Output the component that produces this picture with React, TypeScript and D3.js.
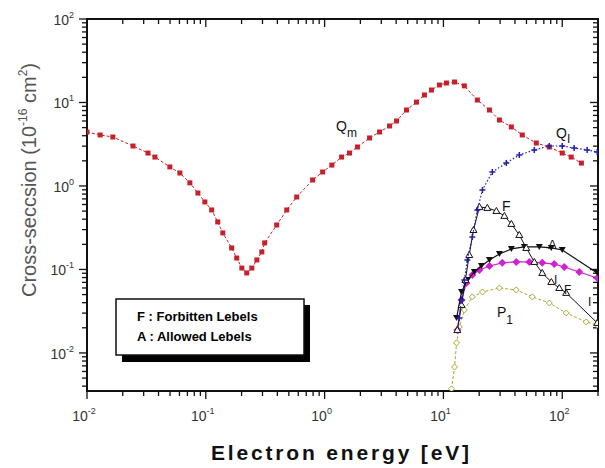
import React from "react";
import * as d3 from "d3";

// ---- data ----
const qmE = [0.01, 0.0129, 0.0165, 0.0244, 0.0326, 0.0373, 0.0498, 0.0605, 0.0734, 0.0858, 0.0982, 0.112, 0.126, 0.139, 0.165, 0.182, 0.201, 0.221, 0.244, 0.269, 0.296, 0.313, 0.395, 0.48, 0.582, 0.793, 0.962, 1.15, 1.39, 1.62, 1.89, 2.39, 2.9, 3.52, 4.03, 4.89, 5.93, 6.92, 7.93, 9.25, 10.6, 12.4, 15.0, 19.3, 24.4, 29.6, 37.3, 46.1, 60.5, 77.8, 100, 119, 145];
const qmQ = [4.43, 4.08, 3.86, 3.01, 2.48, 2.22, 1.69, 1.43, 1.09, 0.824, 0.643, 0.516, 0.371, 0.274, 0.181, 0.137, 0.104, 0.0908, 0.104, 0.13, 0.162, 0.208, 0.341, 0.516, 0.738, 1.18, 1.47, 1.78, 2.22, 2.48, 2.93, 3.76, 4.43, 5.23, 6.0, 8.13, 10.1, 12.3, 14.1, 16.2, 17.1, 17.6, 15.8, 10.7, 8.13, 6.17, 5.09, 4.08, 3.27, 2.93, 2.48, 2.22, 1.88];

const qiE = [13.6, 14.2, 15.0, 15.9, 17.5, 19.3, 21.3, 25.8, 33.8, 43.5, 58.2, 77.8, 100, 126, 162, 197];
const qiQ = [0.0262, 0.0431, 0.0748, 0.13, 0.245, 0.516, 0.896, 1.47, 1.88, 2.35, 2.7, 3.01, 3.01, 2.85, 2.7, 2.55];

const fE = [13.1, 14.2, 15.3, 16.5, 17.9, 20.1, 23.4, 27.9, 32.6, 37.3, 43.5, 49.8, 58.2, 67.9, 80.9, 94.4, 108, 197];
const fQ = [0.0188, 0.0376, 0.0748, 0.149, 0.297, 0.561, 0.546, 0.502, 0.438, 0.351, 0.259, 0.181, 0.123, 0.0908, 0.0708, 0.06, 0.0524, 0.0229];

const aE = [12.9, 14.2, 15.9, 18.2, 20.9, 24.4, 29.6, 37.3, 48.0, 64.1, 80.9, 100, 197];
const aQ = [0.0262, 0.0538, 0.0748, 0.0933, 0.11, 0.13, 0.153, 0.176, 0.186, 0.186, 0.181, 0.171, 0.0908];

const mE = [13.1, 14.2, 15.6, 17.5, 20.1, 24.4, 31.3, 41.0, 52.8, 67.9, 85.7, 104, 139, 197];
const mQ = [0.0188, 0.0431, 0.0689, 0.0859, 0.0986, 0.11, 0.12, 0.123, 0.123, 0.12, 0.116, 0.107, 0.0933, 0.0791];

const pE = [11.7, 12.4, 12.9, 13.6, 15.0, 17.5, 21.3, 29.6, 41.0, 56.0, 77.8, 108, 159, 197];
const pQ = [0.00371, 0.00679, 0.0132, 0.0205, 0.0327, 0.0469, 0.0538, 0.06, 0.0568, 0.0469, 0.0397, 0.0301, 0.0235, 0.0216];

const yTickExps = [2, 1, 0, -1, -2];
const xTickExps = [-2, -1, 0, 1, 2];
const legendLines = ["F : Forbitten Lebels", "A : Allowed Lebels"];

// ---- layout ----
const W = 605, H = 468;
const L = 87, R = 598, T = 19, B = 391;

const x = d3.scaleLog().domain([0.01, 200]).range([L, R]);
const y = d3.scaleLog().domain([0.0035, 100]).range([B, T]);

const zip = (e: number[], q: number[]) => e.map((v, i) => [v, q[i]] as [number, number]);
const line = d3.line<[number, number]>().x(d => x(d[0])).y(d => y(d[1]));

function minorTicks(lo: number, hi: number) {
  const out: { v: number; major: boolean }[] = [];
  for (let e = Math.floor(Math.log10(lo)); e <= Math.ceil(Math.log10(hi)); e++) {
    for (let m = 1; m <= 9; m++) {
      const v = m * Math.pow(10, e);
      if (v >= lo * 0.999 && v <= hi * 1.001) out.push({ v, major: m === 1 });
    }
  }
  return out;
}

const sup = (e: number) => (e < 0 ? "-" + Math.abs(e) : String(e));

export default function App() {
  const xt = minorTicks(0.01, 200);
  const yt = minorTicks(0.0035, 100);
  const qm = zip(qmE, qmQ), qi = zip(qiE, qiQ), f = zip(fE, fQ), a = zip(aE, aQ), m = zip(mE, mQ), p = zip(pE, pQ);
  const font = "Liberation Sans, Arial, sans-serif";
  return (
    <svg width={W} height={H} style={{ position: "absolute", left: 0, top: 0, background: "#fff" }} fontFamily={font}>
      <defs>
        <clipPath id="plot"><rect x={L} y={T} width={R - L} height={B - T} /></clipPath>
      </defs>
      {/* ticks */}
      {xt.map((t, i) => (
        <g key={"xt" + i} stroke="#111" strokeWidth={1.3}>
          <line x1={x(t.v)} x2={x(t.v)} y1={B} y2={B + (t.major ? 8 : 5)} />
          <line x1={x(t.v)} x2={x(t.v)} y1={T} y2={T + (t.major ? 8 : 5)} />
        </g>
      ))}
      {yt.map((t, i) => (
        <g key={"yt" + i} stroke="#111" strokeWidth={1.3}>
          <line x1={L - (t.major ? 8 : 5)} x2={L} y1={y(t.v)} y2={y(t.v)} />
          <line x1={R - (t.major ? 8 : 5)} x2={R} y1={y(t.v)} y2={y(t.v)} />
        </g>
      ))}
      {/* frame */}
      <rect x={L} y={T} width={R - L} height={B - T} fill="none" stroke="#111" strokeWidth={2} />
      {/* tick labels */}
      {yTickExps.map(e => (
        <text key={"yl" + e} x={74} y={y(Math.pow(10, e)) + 6} textAnchor="end" fontSize={14} fill="#333">
          10<tspan dy={-7} fontSize={9}>{sup(e)}</tspan>
        </text>
      ))}
      {xTickExps.map(e => (
        <text key={"xl" + e} x={x(Math.pow(10, e)) - 3} y={421} textAnchor="middle" fontSize={14} fill="#333">
          10<tspan dy={-7} fontSize={9}>{sup(e)}</tspan>
        </text>
      ))}
      {/* axis titles */}
      <text x={340} y={460} textAnchor="middle" fontSize={21} fontWeight="bold" fill="#111" textLength={258} lengthAdjust="spacing">Electron energy [eV]</text>
      <text transform="translate(36,180) rotate(-90)" textAnchor="middle" fontSize={20} fill="#555">
        Cross-seccsion (10<tspan dy={-9} fontSize={12}>-16</tspan><tspan dy={9}> cm</tspan><tspan dy={-9} fontSize={12}>2</tspan><tspan dy={9}>)</tspan>
      </text>
      <g clipPath="url(#plot)">
        {/* Qm red */}
        <path d={line(qm) || ""} fill="none" stroke="#c8202a" strokeWidth={1} strokeDasharray="3,2" />
        {qm.map((d, i) => <rect key={"qm" + i} x={x(d[0]) - 2.5} y={y(d[1]) - 2.5} width={5} height={5} fill="#c8202a" />)}
        {/* P1 yellow-green */}
        <path d={line(p) || ""} fill="none" stroke="#a8a830" strokeWidth={1} strokeDasharray="3,2" />
        {p.map((d, i) => <path key={"p" + i} d={`M${x(d[0])},${y(d[1]) - 3}l3,3l-3,3l-3,-3z`} fill="#fff" stroke="#a8a830" strokeWidth={1} />)}
        {/* magenta */}
        <path d={line(m) || ""} fill="none" stroke="#d020d0" strokeWidth={1.2} />
        {m.map((d, i) => <path key={"m" + i} d={`M${x(d[0])},${y(d[1]) - 4}l4,4l-4,4l-4,-4z`} fill="#d020d0" />)}
        {/* A black filled */}
        <path d={line(a) || ""} fill="none" stroke="#111" strokeWidth={1.2} />
        {a.map((d, i) => <path key={"a" + i} d={`M${x(d[0]) - 3.5},${y(d[1]) - 3}h7l-3.5,6z`} fill="#111" />)}
        {/* F open triangles */}
        <path d={line(f) || ""} fill="none" stroke="#111" strokeWidth={1} />
        {f.map((d, i) => <path key={"f" + i} d={`M${x(d[0])},${y(d[1]) - 3.5}l3.5,6h-7z`} fill="#fff" stroke="#111" strokeWidth={1} />)}
        {/* Qi blue */}
        <path d={line(qi) || ""} fill="none" stroke="#2020a8" strokeWidth={1.2} strokeDasharray="1.5,2" />
        {qi.map((d, i) => <path key={"qi" + i} d={`M${x(d[0]) - 3},${y(d[1])}h6M${x(d[0])},${y(d[1]) - 3}v6`} stroke="#2020a8" strokeWidth={1.5} />)}
      </g>
      {/* curve labels */}
      <text x={336} y={131} fontSize={14} fill="#111">Q<tspan dy={6} fontSize={12}>m</tspan></text>
      <text x={556} y={138} fontSize={14} fill="#111">Q<tspan dy={5} fontSize={12}>I</tspan></text>
      <text x={502} y={211} fontSize={14} fill="#111">F</text>
      <text x={548} y={249} fontSize={13} fill="#111">A</text>
      <text x={554} y={284} fontSize={12} fill="#111">I</text>
      <text x={564} y={294} fontSize={12} fill="#111">F</text>
      <text x={588} y={306} fontSize={12} fill="#111">I</text>
      <text x={497} y={317} fontSize={14} fill="#111">P<tspan dy={7} fontSize={12}>1</tspan></text>
      {/* legend box */}
      <rect x={122} y={305} width={188} height={57} fill="#000" />
      <rect x={116} y={299} width={188} height={56} fill="#fff" stroke="#111" strokeWidth={1.5} />
      {legendLines.map((s, i) => (
        <text key={s} x={137} y={321 + i * 20} fontSize={13} fontWeight="bold" fill="#000">{s}</text>
      ))}
    </svg>
  );
}
